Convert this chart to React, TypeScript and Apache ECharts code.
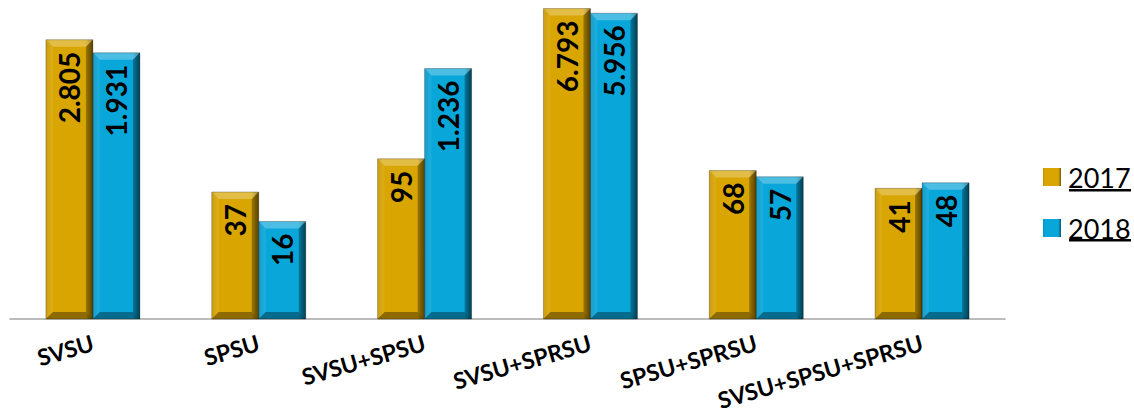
import React, { useEffect, useRef } from "react";
import * as echarts from "echarts";

const categories = ["SVSU", "SPSU", "SVSU+SPSU", "SVSU+SPRSU", "SPSU+SPRSU", "SVSU+SPSU+SPRSU"];
const values2017 = [2805, 37, 95, 6793, 68, 41];
const values2018 = [1931, 16, 1236, 5956, 57, 48];
const seriesNames = ["2017", "2018"];

const fmt = (n: number) => String(n).replace(/\B(?=(\d{3})+(?!\d))/g, ".");

const FONT = "Lato";
const BAR_W = 47;

function hGrad(dark: string, main: string, edge: string) {
  return new echarts.graphic.LinearGradient(0, 0, 1, 0, [
    { offset: 0, color: dark },
    { offset: 0.12, color: main },
    { offset: 0.85, color: main },
    { offset: 1, color: edge },
  ]);
}

export default function App() {
  const ref = useRef<HTMLDivElement>(null);
  useEffect(() => {
    if (!ref.current) return;
    const chart = echarts.init(ref.current, undefined, { renderer: "svg" });
    const gold = hGrad("#c79500", "#d9a500", "#7a5c00");
    const blue = hGrad("#0795c6", "#08a6d9", "#035873");
    const bevelData = categories.map((_, i) => [i, values2017[i], values2018[i]]);
    const label = {
      show: true,
      position: "insideTop",
      rotate: 90,
      align: "right",
      verticalAlign: "middle",
      distance: 12,
      fontFamily: FONT,
      fontWeight: "bold",
      fontSize: 28,
      color: "#000",
      formatter: (p: any) => fmt(p.value),
    };
    chart.setOption({
      animation: false,
      grid: { left: 10, right: 129, top: 0, bottom: 94, containLabel: false, outerBoundsMode: "none" },
      legend: {
        data: seriesNames,
        orient: "vertical",
        left: 1038,
        top: 157,
        itemWidth: 18,
        itemHeight: 18,
        itemGap: 21,
        icon: "rect",
        textStyle: { fontFamily: FONT, fontSize: 27, color: "#000", lineHeight: 30, padding: [0, 0, 0, 2] },
      },
      xAxis: {
        type: "category",
        data: categories,
        axisLine: { lineStyle: { color: "#a6a6a6", width: 1.5 } },
        axisTick: { length: 7, lineStyle: { color: "#a6a6a6", width: 1.5 } },
        axisLabel: {
          rotate: 16,
          margin: 23,
          interval: 0,
          fontFamily: FONT,
          fontWeight: "bold",
          fontSize: 23,
          lineHeight: 17,
          color: "#000",
        },
      },
      yAxis: { type: "log", logBase: 10, min: 1, max: 8670, show: false, splitLine: { show: false } },
      series: [
        {
          name: "2017",
          type: "bar",
          data: values2017,
          barWidth: BAR_W,
          barGap: "0%",
          itemStyle: { color: gold },
          label,
        },
        {
          name: "2018",
          type: "bar",
          data: values2018,
          barWidth: BAR_W,
          itemStyle: { color: blue },
          label,
        },
        {
          name: "bevel",
          type: "custom",
          silent: true,
          z: 3,
          data: bevelData,
          encode: { x: 0, y: 1 },
          renderItem: (params: any, api: any) => {
            const i = api.value(0);
            const base = api.coord([i, 1]);
            const cx = base[0];
            const yb = base[1];
            const b = 7;
            const children: any[] = [];
            [1, 2].forEach((k) => {
              const v = api.value(k);
              const top = api.coord([i, v])[1];
              const x0 = k === 1 ? cx - BAR_W : cx;
              const x1 = x0 + BAR_W;
              const y0 = top;
              children.push(
                { type: "polygon", shape: { points: [[x0, y0], [x1, y0], [x1 - b, y0 + b], [x0 + b, y0 + b]] }, style: { fill: "rgba(255,255,255,0.28)" } },
                { type: "polygon", shape: { points: [[x1, y0], [x1, yb], [x1 - b, yb - b], [x1 - b, y0 + b]] }, style: { fill: "rgba(0,0,0,0.28)" } },
                { type: "polygon", shape: { points: [[x0, y0], [x0 + b, y0 + b], [x0 + b, yb - b], [x0, yb]] }, style: { fill: "rgba(255,255,255,0.08)" } },
                { type: "polygon", shape: { points: [[x0, yb], [x1, yb], [x1 - b, yb - b], [x0 + b, yb - b]] }, style: { fill: "rgba(0,0,0,0.35)" } },
                { type: "rect", shape: { x: x0, y: y0, width: BAR_W, height: yb - y0 }, style: { fill: "none", stroke: "rgba(0,0,0,0.25)", lineWidth: 1 } }
              );
            });
            return { type: "group", children };
          },
        },
      ],
      graphic: [
        { type: "rect", left: 1069, top: 189, shape: { width: 62, height: 2.5 }, style: { fill: "#000" } },
        { type: "rect", left: 1069, top: 239, shape: { width: 62, height: 2.5 }, style: { fill: "#000" } },
      ],
    });
    return () => chart.dispose();
  }, []);
  return <div ref={ref} style={{ position: "absolute", left: 0, top: 0, width: 1134, height: 413 }} />;
}
